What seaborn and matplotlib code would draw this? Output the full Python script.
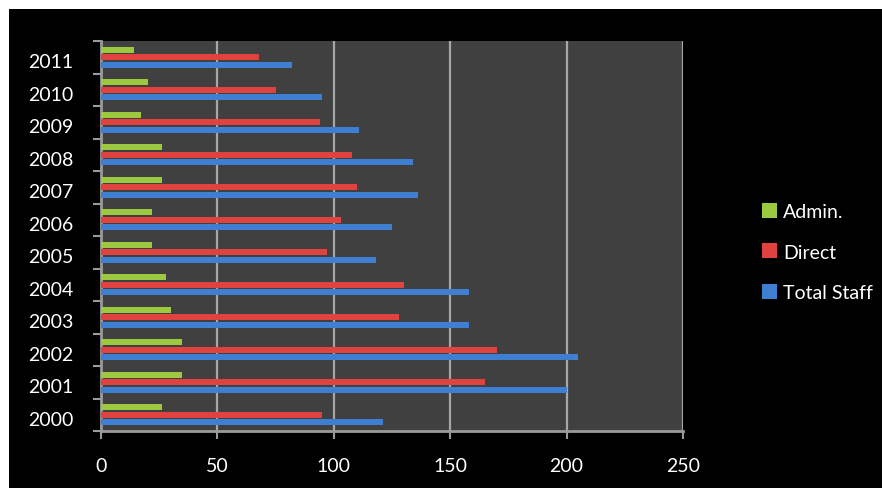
import matplotlib
matplotlib.use("Agg")
import matplotlib.pyplot as plt
from matplotlib.patches import Rectangle, Patch
from matplotlib.transforms import ScaledTranslation
import seaborn as sb
import pandas as pd
import numpy as np

years = ["2011", "2010", "2009", "2008", "2007", "2006", "2005", "2004", "2003", "2002", "2001", "2000"]
admin = [14, 20, 17, 26, 26, 22, 22, 28, 30, 35, 35, 26]
direct = [68, 75, 94, 108, 110, 103, 97, 130, 128, 170, 165, 95]
totalStaff = [82, 95, 111, 134, 136, 125, 118, 158, 158, 205, 200, 121]
seriesNames = ["Admin.", "Direct", "Total Staff"]
seriesColors = ["#9cc93f", "#e0433f", "#3f7fd2"]

#Long form table for seaborn
rows = []
for i in range(len(years)):
    rows.append([years[i], seriesNames[0], admin[i]])
    rows.append([years[i], seriesNames[1], direct[i]])
    rows.append([years[i], seriesNames[2], totalStaff[i]])
df = pd.DataFrame(rows, columns=["Year", "Series", "Value"])

sb.set_style("dark")
plt.rcParams['font.family'] = ['Lato', 'DejaVu Sans']

fig = plt.figure(figsize=(8.82, 4.89), dpi=100)
fig.patch.set_facecolor("white")
#Black chart background with white strip on top and left
fig.patches.append(Rectangle((9/882, 0), 1, 1-10/489, transform=fig.transFigure,
                             facecolor="black", edgecolor="none", zorder=-1))

ax = fig.add_axes([101/882, 1-432/489, 582/882, 390/489])
ax.set_facecolor("#404040")

sb.barplot(data=df, y="Year", x="Value", hue="Series", order=years, hue_order=seriesNames,
           palette=seriesColors, orient="h", width=0.68, gap=0.18, ax=ax,
           legend=False, saturation=1, linewidth=0, zorder=3)

ax.set_xlim(0, 250)
ax.set_xticks([0, 50, 100, 150, 200, 250])
ax.set_ylim(len(years)-0.5, -0.5)
ax.set_xlabel("")
ax.set_ylabel("")

#Gridlines on the back wall
ax.grid(False)
for v in [50, 100, 150, 200, 250]:
    ax.axvline(v, color="#a6a6a6", linewidth=1.6, zorder=1)

for sp in ["top", "right"]:
    ax.spines[sp].set_visible(False)
for sp in ["left", "bottom"]:
    ax.spines[sp].set_visible(True)
    ax.spines[sp].set_color("#9a9a9a")
    ax.spines[sp].set_linewidth(2)

#Category separators as ticks on the y axis
ax.set_yticks(np.arange(len(years)+1)-0.5, minor=True)
ax.tick_params(axis="y", which="minor", length=6, width=1.5, color="#9a9a9a", direction="out", left=True)
ax.tick_params(axis="y", which="major", length=0, labelsize=14, labelcolor="white", pad=20)
ax.tick_params(axis="x", which="major", length=6, width=1.5, color="#9a9a9a", direction="out",
               bottom=True, labelsize=14, labelcolor="white", pad=13)

#Year labels sit a little lower than the bar groups
shift = ScaledTranslation(0, -3/100, fig.dpi_scale_trans)
for lbl in ax.get_yticklabels():
    lbl.set_transform(lbl.get_transform() + shift)

handles = [Patch(facecolor=c, edgecolor="none") for c in seriesColors]
leg = fig.legend(handles, seriesNames, loc="center left", bbox_to_anchor=(744/882, 1-253/489),
                 frameon=False, fontsize=14, labelcolor="white", handlelength=0.8, handleheight=0.8,
                 handletextpad=0.3, labelspacing=1.2)

plt.savefig("out.png", dpi=100, facecolor=fig.get_facecolor())
